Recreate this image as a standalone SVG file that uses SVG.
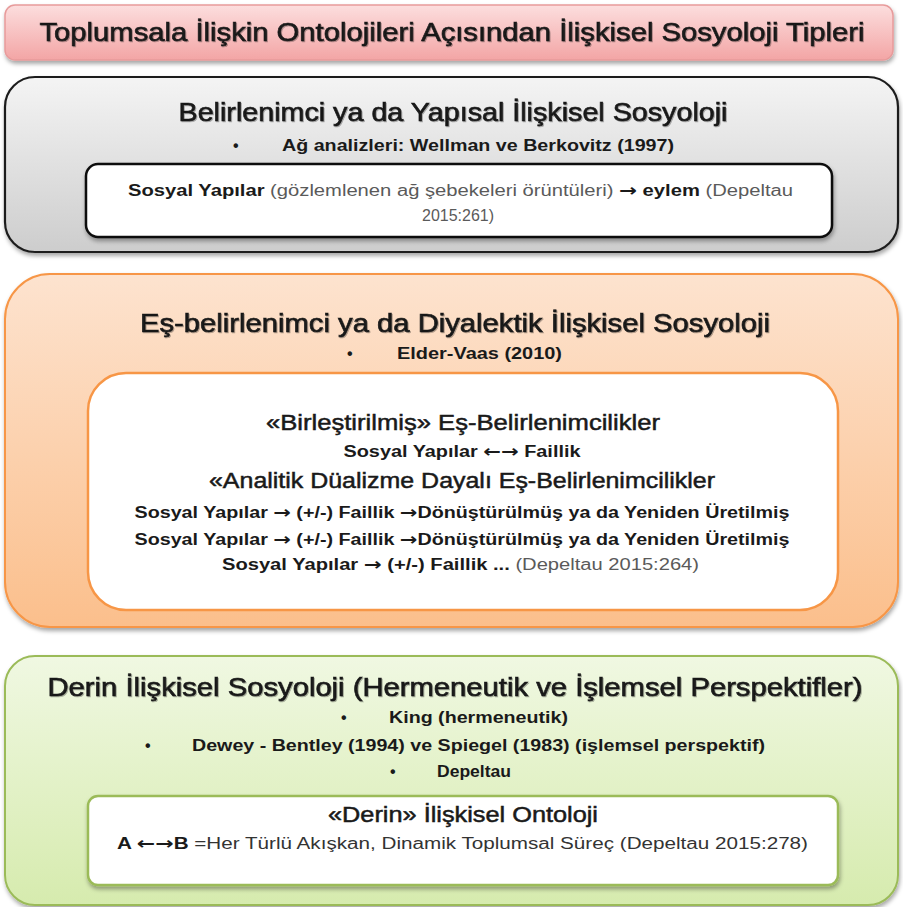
<svg xmlns="http://www.w3.org/2000/svg" width="903" height="907" viewBox="0 0 903 907">
<defs>
<linearGradient id="gPink" x1="0" y1="0" x2="0" y2="1"><stop offset="0" stop-color="#fcdede"/><stop offset="1" stop-color="#f3a5a5"/></linearGradient>
<linearGradient id="gGray" x1="0" y1="0" x2="0" y2="1"><stop offset="0" stop-color="#f4f4f4"/><stop offset="1" stop-color="#cdcdcd"/></linearGradient>
<linearGradient id="gOrange" x1="0" y1="0" x2="0" y2="1"><stop offset="0" stop-color="#fde3cf"/><stop offset="1" stop-color="#fbbf8c"/></linearGradient>
<linearGradient id="gGreen" x1="0" y1="0" x2="0" y2="1"><stop offset="0" stop-color="#f0f8e2"/><stop offset="1" stop-color="#d6ebae"/></linearGradient>
<filter id="sh" x="-5%" y="-10%" width="110%" height="125%"><feDropShadow dx="1" dy="3" stdDeviation="2" flood-color="#000" flood-opacity="0.35"/></filter>
<filter id="tsh" x="-2%" y="-20%" width="104%" height="150%"><feDropShadow dx="1" dy="1" stdDeviation="0.6" flood-color="#000" flood-opacity="0.3"/></filter>
</defs>
<style>
text{font-family:"Liberation Sans",Arial,sans-serif;fill:#1a1a1a}
.h{font-size:25px;text-anchor:middle;stroke:#1a1a1a;stroke-width:0.6}
.h2{font-size:22px;text-anchor:middle;stroke:#1a1a1a;stroke-width:0.5}
.b{font-size:16px;font-weight:bold}
.n{font-size:16px;font-weight:normal;fill:#5a5a5a}
.c{text-anchor:middle}
.ar{font-family:"DejaVu Sans",sans-serif;font-weight:bold;font-size:17px}
</style>

<g id="title">
<rect x="5" y="5" width="888" height="55" rx="10" fill="url(#gPink)" stroke="#e79b9b" stroke-width="1.5" filter="url(#sh)"/>
<text class="h" x="452" y="41" textLength="825" lengthAdjust="spacingAndGlyphs" filter="url(#tsh)">Toplumsala İlişkin Ontolojileri Açısından İlişkisel Sosyoloji Tipleri</text>
</g>

<g id="yapisal">
<rect x="5" y="77" width="893" height="175" rx="30" fill="url(#gGray)" stroke="#1e1e1e" stroke-width="2.2" filter="url(#sh)"/>
<text class="h" x="453" y="121" textLength="549" lengthAdjust="spacingAndGlyphs" filter="url(#tsh)">Belirlenimci ya da Yapısal İlişkisel Sosyoloji</text>
<text class="b" x="233" y="151">•</text>
<text class="b" x="282" y="151" textLength="392" lengthAdjust="spacingAndGlyphs">Ağ analizleri: Wellman ve Berkovitz (1997)</text>
<g id="yapisal-inner">
<rect x="86" y="164" width="746" height="73" rx="12" fill="#ffffff" stroke="#111" stroke-width="2.5" filter="url(#sh)"/>
<text x="128" y="196" textLength="665" lengthAdjust="spacingAndGlyphs"><tspan class="b">Sosyal Yapılar </tspan><tspan class="n">(gözlemlenen ağ şebekeleri örüntüleri) </tspan><tspan class="ar">→</tspan><tspan class="b"> eylem </tspan><tspan class="n">(Depeltau</tspan></text>
<text class="n c" x="458" y="221" textLength="72" lengthAdjust="spacingAndGlyphs">2015:261)</text>
</g>
</g>

<g id="diyalektik">
<rect x="5" y="274" width="893" height="353" rx="45" fill="url(#gOrange)" stroke="#f79646" stroke-width="2" filter="url(#sh)"/>
<text class="h" x="455" y="332" textLength="630" lengthAdjust="spacingAndGlyphs" filter="url(#tsh)">Eş-belirlenimci ya da Diyalektik İlişkisel Sosyoloji</text>
<text class="b" x="347" y="359">•</text>
<text class="b" x="397" y="359" textLength="165" lengthAdjust="spacingAndGlyphs">Elder-Vaas (2010)</text>
<g id="diyalektik-inner">
<rect x="88" y="373" width="750" height="237" rx="38" fill="#ffffff" stroke="#f79646" stroke-width="2.5"/>
<text class="h2" x="463" y="430" textLength="394" lengthAdjust="spacingAndGlyphs">«Birleştirilmiş» Eş-Belirlenimcilikler</text>
<text class="b c" x="462" y="457" textLength="237" lengthAdjust="spacingAndGlyphs">Sosyal Yapılar <tspan class="ar">←→</tspan> Faillik</text>
<text class="h2" x="462" y="488" textLength="506" lengthAdjust="spacingAndGlyphs">«Analitik Düalizme Dayalı Eş-Belirlenimcilikler</text>
<text class="b c" x="462" y="518" textLength="655" lengthAdjust="spacingAndGlyphs">Sosyal Yapılar <tspan class="ar">→</tspan> (+/-) Faillik <tspan class="ar">→</tspan>Dönüştürülmüş ya da Yeniden Üretilmiş</text>
<text class="b c" x="462" y="545" textLength="655" lengthAdjust="spacingAndGlyphs">Sosyal Yapılar <tspan class="ar">→</tspan> (+/-) Faillik <tspan class="ar">→</tspan>Dönüştürülmüş ya da Yeniden Üretilmiş</text>
<text x="222" y="570" textLength="477" lengthAdjust="spacingAndGlyphs"><tspan class="b">Sosyal Yapılar </tspan><tspan class="ar">→</tspan><tspan class="b"> (+/-) Faillik ... </tspan><tspan class="n">(Depeltau 2015:264)</tspan></text>
</g>
</g>

<g id="derin">
<rect x="5" y="656" width="893" height="249" rx="30" fill="url(#gGreen)" stroke="#9bbb59" stroke-width="2" filter="url(#sh)"/>
<text class="h" x="455" y="696" textLength="815" lengthAdjust="spacingAndGlyphs" filter="url(#tsh)">Derin İlişkisel Sosyoloji (Hermeneutik ve İşlemsel Perspektifler)</text>
<text class="b" x="341" y="723">•</text>
<text class="b" x="389" y="723" textLength="179" lengthAdjust="spacingAndGlyphs">King (hermeneutik)</text>
<text class="b" x="145" y="751">•</text>
<text class="b" x="192" y="751" textLength="573" lengthAdjust="spacingAndGlyphs">Dewey - Bentley (1994) ve Spiegel (1983) (işlemsel perspektif)</text>
<text class="b" x="390" y="777">•</text>
<text class="b" x="437" y="777" textLength="74" lengthAdjust="spacingAndGlyphs">Depeltau</text>
<g id="derin-inner">
<rect x="88" y="796" width="750" height="89" rx="10" fill="#ffffff" stroke="#9bbb59" stroke-width="2.5" filter="url(#sh)"/>
<text class="h2" x="463" y="822" textLength="270" lengthAdjust="spacingAndGlyphs">«Derin» İlişkisel Ontoloji</text>
<text x="117" y="849" textLength="691" lengthAdjust="spacingAndGlyphs"><tspan class="b">A </tspan><tspan class="ar">←→</tspan><tspan class="b">B </tspan><tspan class="n" style="fill:#333">=Her Türlü Akışkan, Dinamik Toplumsal Süreç (Depeltau 2015:278)</tspan></text>
</g>
</g>

<g id="connectors"/>
</svg>
